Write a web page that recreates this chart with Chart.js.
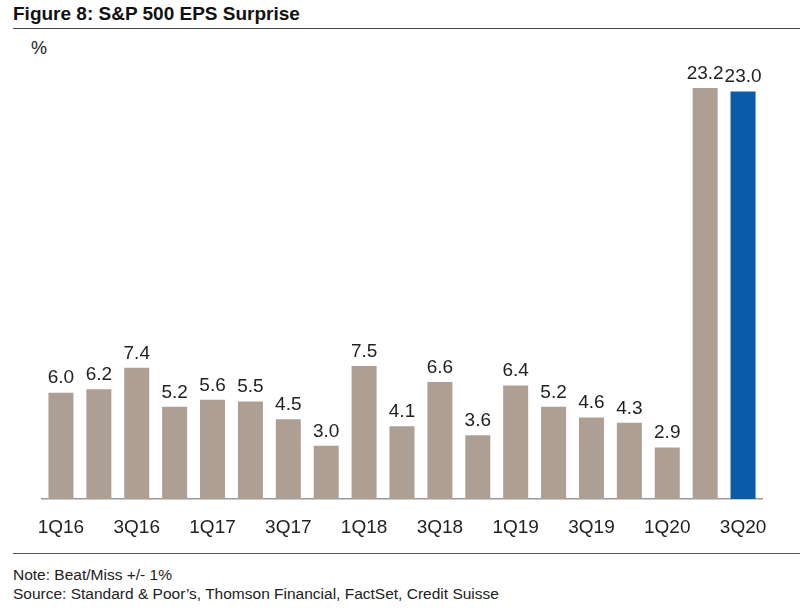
<!DOCTYPE html>
<html>
<head>
<meta charset="utf-8">
<script src="https://cdn.jsdelivr.net/npm/chart.js@4"></script>
<style>
  body { margin:0; background:#fff; font-family:"Liberation Sans", Arial, sans-serif; color:#222; }
  #wrap { position:relative; width:800px; height:608px; overflow:hidden; }
  #title { position:absolute; left:13px; top:3px; font-size:19px; font-weight:bold; color:#111; }
  #rule1 { position:absolute; left:13px; right:0; top:28px; border-top:1.5px solid #444; }
  #unit { position:absolute; left:31px; top:38px; font-size:18px; color:#222; }
  #box { position:absolute; left:0; top:30px; width:800px; height:520px; }
  #rule2 { position:absolute; left:13px; right:0; top:553px; border-top:1px solid #555; }
  #notes { position:absolute; left:13px; top:565px; font-size:15.5px; line-height:19px; color:#222; }
</style>
</head>
<body>
<div id="wrap">
  <div id="title">Figure 8: S&amp;P 500 EPS Surprise</div>
  <div id="rule1"></div>
  <div id="unit">%</div>
  <div id="box"><canvas id="chart" width="800" height="520"></canvas></div>
  <div id="rule2"></div>
  <div id="notes">Note: Beat/Miss +/- 1%<br>Source: Standard &amp; Poor’s, Thomson Financial, FactSet, Credit Suisse</div>
</div>
<script>
// quarters and EPS surprise (%)
const quarters = ['1Q16','2Q16','3Q16','4Q16','1Q17','2Q17','3Q17','4Q17','1Q18','2Q18','3Q18','4Q18',
                  '1Q19','2Q19','3Q19','4Q19','1Q20','2Q20','3Q20'];
const surprise = [6.0, 6.2, 7.4, 5.2, 5.6, 5.5, 4.5, 3.0, 7.5, 4.1, 6.6, 3.6, 6.4, 5.2, 4.6, 4.3, 2.9, 23.2, 23.0];

const barColors = surprise.map((v, i) => i === surprise.length - 1 ? '#0a5ca8' : '#ad9f93');

// value labels above each bar
const valueLabels = {
  id: 'valueLabels',
  afterDatasetsDraw(chart) {
    const ctx = chart.ctx;
    const meta = chart.getDatasetMeta(0);
    ctx.save();
    ctx.font = '19px "Liberation Sans", Arial, sans-serif';
    ctx.fillStyle = '#222';
    ctx.textAlign = 'center';
    ctx.textBaseline = 'bottom';
    meta.data.forEach((bar, i) => {
      ctx.fillText(surprise[i].toFixed(1), bar.x, bar.y - 5);
    });
    ctx.restore();
  }
};

new Chart(document.getElementById('chart'), {
  type: 'bar',
  data: {
    labels: quarters,
    datasets: [{ data: surprise, backgroundColor: barColors, barPercentage: 0.66, categoryPercentage: 1 }]
  },
  options: {
    responsive: false,
    animation: false,
    layout: { padding: { left: 42, right: 38, top: 26, bottom: 0 } },
    plugins: { legend: { display: false }, tooltip: { enabled: false } },
    scales: {
      x: {
        grid: { display: false },
        border: { display: true, color: '#999', width: 1.5 },
        ticks: {
          autoSkip: false, maxRotation: 0, padding: 9, color: '#222',
          font: { family: '"Liberation Sans", Arial, sans-serif', size: 19 },
          callback: (v, i) => i % 2 === 0 ? quarters[i] : ''
        },
        afterFit: s => { s.height = 51; }
      },
      y: { display: false, min: 0, max: 25 }
    }
  },
  plugins: [valueLabels]
});
</script>
</body>
</html>
